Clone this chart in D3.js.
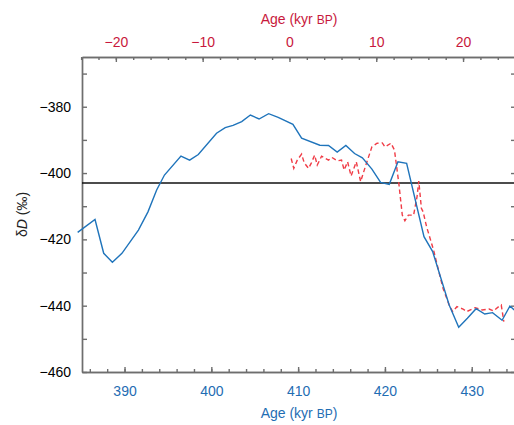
<!DOCTYPE html>
<html>
<head>
<meta charset="utf-8">
<script src="https://cdn.jsdelivr.net/npm/d3@7"></script>
<style>
  body { margin: 0; background: #fff; }
  svg { font-family: "Liberation Sans", Arial, Helvetica, sans-serif; }
  .axis path, .axis line { stroke: #6e6e6e; stroke-width: 1.4px; }
  .axis text { font-size: 14px; }
</style>
</head>
<body>
<div id="chart"></div>
<script>

// blue record, bottom axis (kyr BP)
var blueAge = [384.6, 386.6, 387.6, 388.6, 389.7, 391.6, 392.7, 393.7, 394.6, 396.5, 397.5, 398.5,
  400.6, 401.6, 402.5, 403.5, 404.5, 405.5, 406.6, 407.7, 409.4, 410.4, 412.5, 413.5, 414.5,
  415.5, 416.5, 417.4, 418.5, 419.5, 420.5, 421.5, 422.5, 424.5, 425.5, 427.4, 428.5, 429.5,
  430.5, 431.5, 432.4, 433.5, 434.4, 434.9];
var blueD = [-417.9, -414.0, -424.2, -426.9, -424.2, -417.2, -411.7, -405.1, -400.6, -394.9, -396.1, -394.4,
  -388.0, -386.3, -385.6, -384.5, -382.5, -383.7, -382.1, -383.2, -385.3, -389.5, -391.6, -391.7, -393.7,
  -391.7, -394.1, -395.4, -398.8, -402.8, -403.4, -396.6, -397.1, -419.2, -423.7, -439.8, -446.5, -443.8,
  -440.9, -442.5, -442.1, -444.4, -440.1, -441.3];

// red record, top axis (kyr BP)
var redAge = [0.2, 0.5, 0.9, 1.4, 1.7, 2.2, 2.5, 2.9, 3.2, 3.7, 4.5, 4.9, 5.5, 6.0, 6.3, 6.7, 7.1, 7.7,
  8.2, 8.8, 9.5, 10.1, 10.7, 11.0, 11.7, 12.1, 12.6, 13.0, 13.3, 13.7, 14.3, 14.7, 14.9, 15.2, 15.4,
  15.8, 16.6, 17.4, 17.7, 18.4, 18.8, 19.3, 20.0, 20.4, 21.4, 22.2, 23.0, 23.5, 24.1, 24.4, 24.7];
var redD = [-395.6, -398.6, -396.1, -394.3, -396.9, -398.6, -397.1, -394.6, -397.6, -394.9, -396.1, -395.3,
  -396.3, -396.1, -399.1, -396.6, -400.9, -396.6, -402.6, -397.6, -392.1, -391.0, -390.9, -392.1, -391.0,
  -393.1, -403.1, -412.7, -414.4, -412.7, -412.7, -407.1, -402.4, -410.6, -411.7, -416.2, -423.2, -431.7,
  -434.8, -439.8, -441.8, -440.3, -441.0, -441.8, -440.6, -441.3, -441.0, -441.6, -440.3, -439.8, -444.8];

var bottomTicks = [390, 400, 410, 420, 430];
var topTicks = [-20, -10, 0, 10, 20];
var yTicks = [-380, -400, -420, -440, -460];
var refLevel = -403;

var margin = {top: 57, right: -2, bottom: 53, left: 82},
  W = 514, H = 425,
  width = W - margin.left - margin.right,
  height = H - margin.top - margin.bottom;

var x = d3.scaleLinear().domain([385.1, 435.1]).range([0, width]);
var xTop = d3.scaleLinear().domain([385.1 - 409, 435.1 - 409]).range([0, width]);
var y = d3.scaleLinear().domain([-460, -365]).range([height, 0]);

var svg = d3.select("#chart").append("svg")
  .attr("width", W)
  .attr("height", H)
  .append("g")
  .attr("transform", "translate(" + margin.left + "," + margin.top + ")");

var fmt = function(d) { return d < 0 ? "\u2212" + Math.abs(d) : d; };

// minor ticks first, majors on top
svg.append("g")
  .attr("class", "axis")
  .attr("transform", "translate(0," + height + ")")
  .call(d3.axisBottom(x).tickValues(d3.range(386, 436, 2)).tickSizeInner(-3).tickSizeOuter(0).tickFormat(""));

svg.append("g")
  .attr("class", "axis bottom")
  .attr("transform", "translate(0," + height + ")")
  .call(d3.axisBottom(x).tickValues(bottomTicks).tickSizeInner(-5).tickSizeOuter(0).tickPadding(14).tickFormat(fmt));

svg.append("g")
  .attr("class", "axis")
  .call(d3.axisTop(xTop).tickValues(d3.range(-24, 27, 2)).tickSizeInner(-3).tickSizeOuter(0).tickFormat(""));

svg.append("g")
  .attr("class", "axis top")
  .call(d3.axisTop(xTop).tickValues(topTicks).tickSizeInner(-5).tickSizeOuter(0).tickPadding(10).tickFormat(fmt));

svg.append("g")
  .attr("class", "axis")
  .call(d3.axisLeft(y).tickValues(d3.range(-450, -365, 20)).tickSizeInner(-5).tickSizeOuter(0).tickFormat(""));

svg.append("g")
  .attr("class", "axis")
  .call(d3.axisLeft(y).tickValues(yTicks).tickSizeInner(-5).tickSizeOuter(0).tickPadding(11).tickFormat(fmt));

svg.append("g")
  .attr("class", "axis")
  .attr("transform", "translate(" + width + ",0)")
  .call(d3.axisRight(y).tickValues(d3.range(-460, -365, 10)).tickSizeInner(-5).tickSizeOuter(0).tickFormat(""));

svg.selectAll(".bottom text").attr("fill", "#1f6db3");
svg.selectAll(".top text").attr("fill", "#c8183c");

// reference level
svg.append("line")
  .attr("x1", 0)
  .attr("x2", width)
  .attr("y1", y(refLevel))
  .attr("y2", y(refLevel))
  .attr("stroke", "#111")
  .attr("stroke-width", 1.3);

var blueLine = d3.line()
  .x(function(d, i) { return x(blueAge[i]); })
  .y(function(d) { return y(d); });

var redLine = d3.line()
  .x(function(d, i) { return xTop(redAge[i]); })
  .y(function(d) { return y(d); });

svg.append("path")
  .datum(redD)
  .attr("d", redLine)
  .attr("fill", "none")
  .attr("stroke", "#f03c46")
  .attr("stroke-width", 1.4)
  .attr("stroke-dasharray", "4.5,3");

svg.append("path")
  .datum(blueD)
  .attr("d", blueLine)
  .attr("fill", "none")
  .attr("stroke", "#1f74bb")
  .attr("stroke-width", 1.4);

// axis titles
var bTitle = svg.append("text")
  .attr("x", width / 2)
  .attr("y", height + 46)
  .attr("text-anchor", "middle")
  .attr("font-size", 14)
  .attr("fill", "#1f6db3");
bTitle.append("tspan").text("Age (kyr ");
bTitle.append("tspan").attr("font-size", 12).text("BP");
bTitle.append("tspan").text(")");

var tTitle = svg.append("text")
  .attr("x", width / 2)
  .attr("y", -33)
  .attr("text-anchor", "middle")
  .attr("font-size", 14)
  .attr("fill", "#c8183c");
tTitle.append("tspan").text("Age (kyr ");
tTitle.append("tspan").attr("font-size", 12).text("BP");
tTitle.append("tspan").text(")");

var yTitle = svg.append("text")
  .attr("transform", "translate(-55," + (height / 2) + ") rotate(-90)")
  .attr("text-anchor", "middle")
  .attr("font-size", 14)
  .attr("fill", "#222");
yTitle.append("tspan").text("\u03b4");
yTitle.append("tspan").attr("font-style", "italic").text("D");
yTitle.append("tspan").text(" (\u2030)");

</script>
</body>
</html>
